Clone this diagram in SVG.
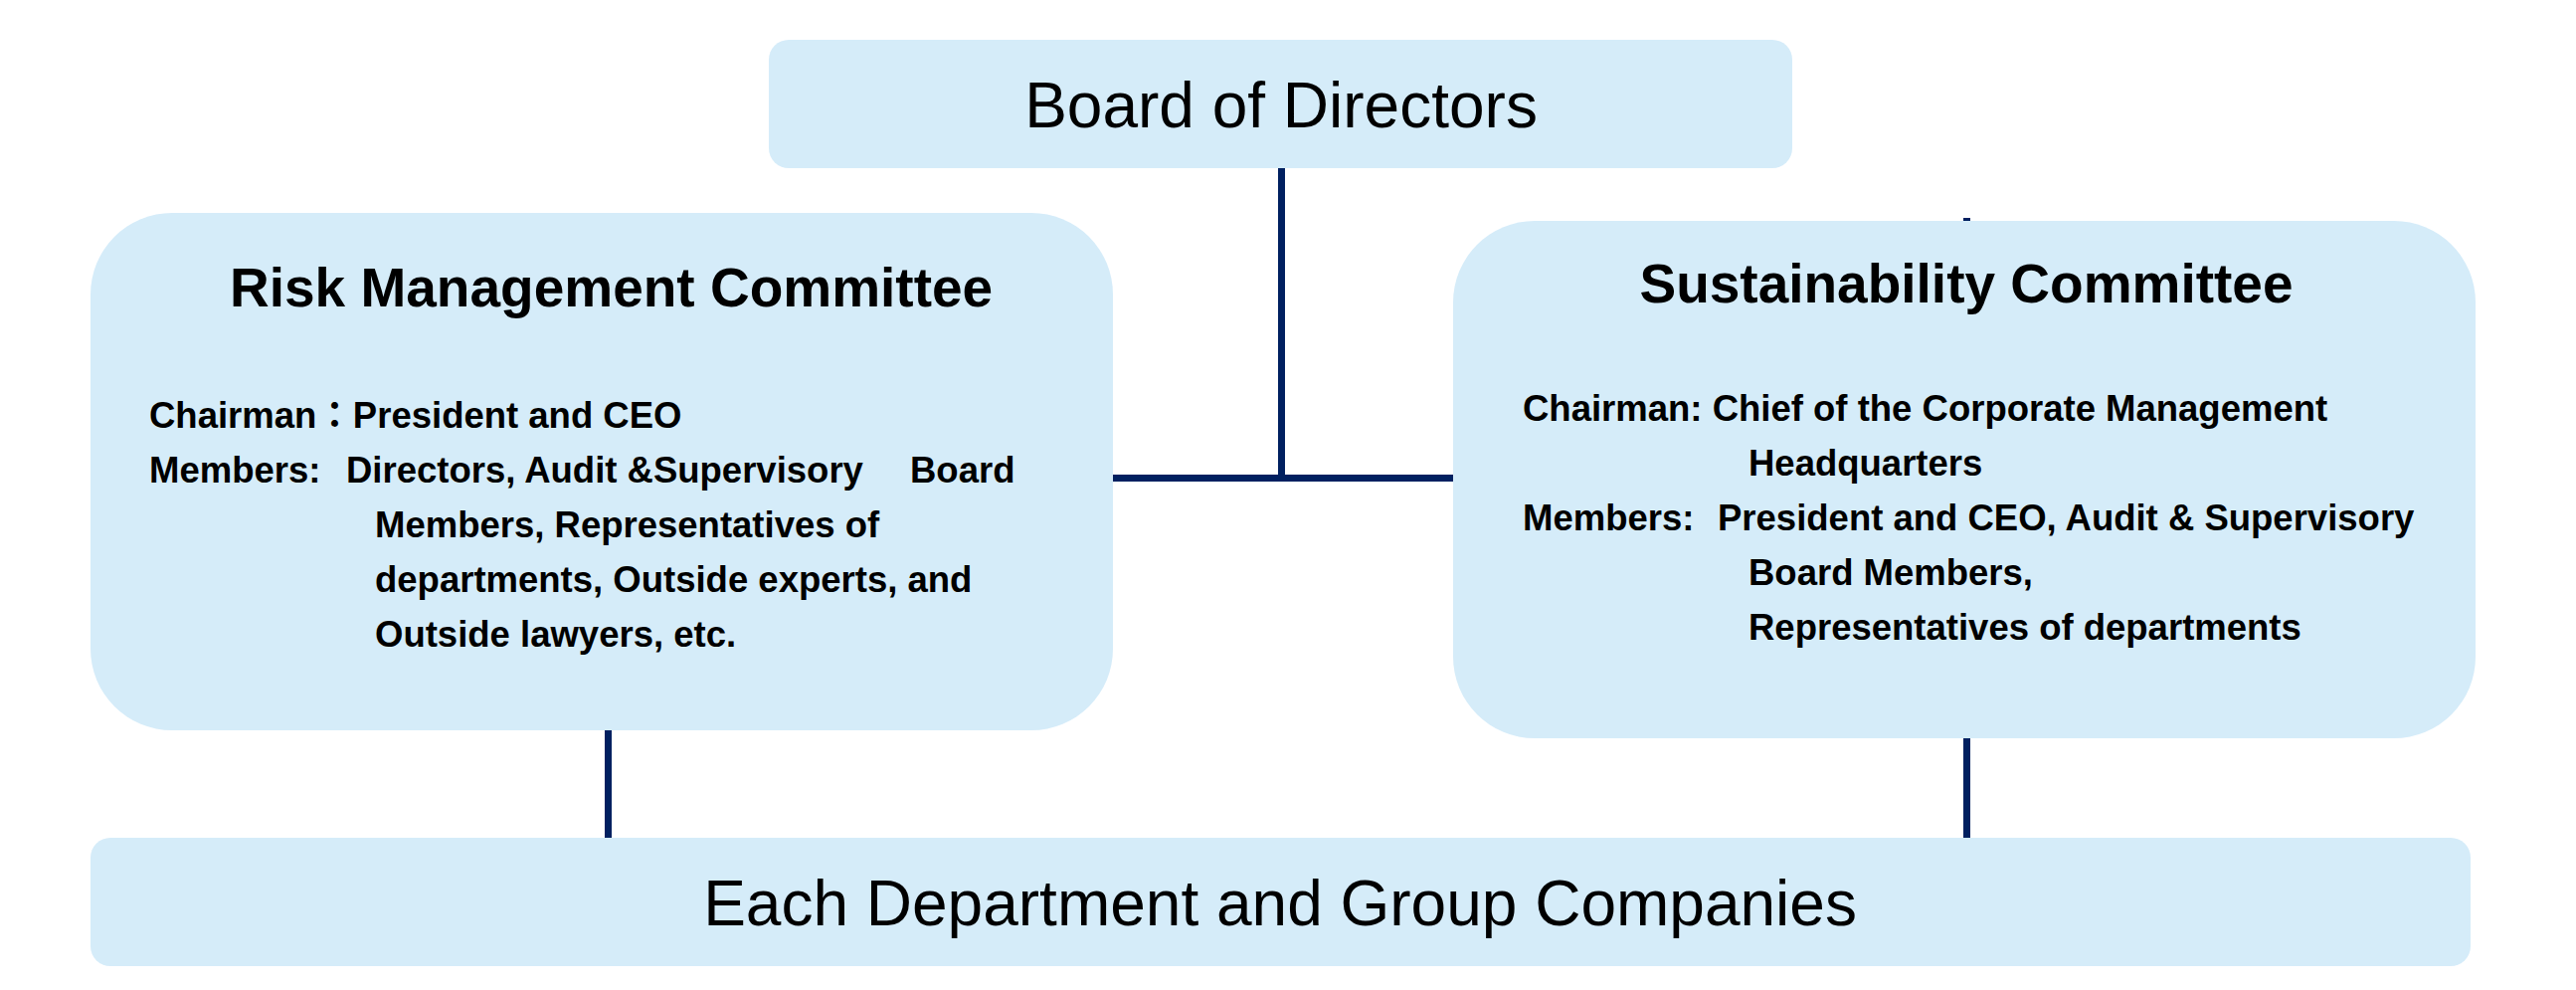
<svg xmlns="http://www.w3.org/2000/svg" width="2590" height="995" viewBox="0 0 2590 995">
<style>
.box{fill:#D5ECF9;}
.conn{stroke:#002060;stroke-width:7;fill:none;}
.big{font-family:"Liberation Sans",Arial,sans-serif;font-size:64px;fill:#000;}
.title{font-family:"Liberation Sans",Arial,sans-serif;font-size:55px;font-weight:bold;fill:#000;}
.body{font-family:"Liberation Sans",Arial,"Noto Sans CJK JP",sans-serif;font-size:36.5px;font-weight:bold;fill:#000;white-space:pre;}
</style>
<rect width="2590" height="995" fill="#FFFFFF"/>
<g id="connectors">
<line class="conn" x1="1288.5" y1="169" x2="1288.5" y2="480.5"/>
<line class="conn" x1="1119" y1="480.5" x2="1461" y2="480.5"/>
<line class="conn" x1="1977.5" y1="219" x2="1977.5" y2="223"/>
<line class="conn" x1="611.5" y1="734" x2="611.5" y2="842"/>
<line class="conn" x1="1977.5" y1="742" x2="1977.5" y2="842"/>
</g>
<g id="board">
<rect class="box" x="773" y="40" width="1029" height="129" rx="20" ry="20"/>
<text class="big" x="1288" y="128" text-anchor="middle">Board of Directors</text>
</g>
<g id="risk">
<rect class="box" x="91" y="214" width="1028" height="520" rx="82" ry="82"/>
<text class="title" x="231" y="308">Risk Management Committee</text>
<text class="body" x="150" y="430">Chairman：President and CEO</text>
<text class="body" y="485"><tspan x="150">Members:</tspan><tspan x="348">Directors, Audit &amp;Supervisory</tspan><tspan x="915">Board</tspan></text>
<text class="body" x="377" y="540">Members, Representatives of</text>
<text class="body" x="377" y="595">departments, Outside experts, and</text>
<text class="body" x="377" y="650">Outside lawyers, etc.</text>
</g>
<g id="sustainability">
<rect class="box" x="1461" y="222" width="1028" height="520" rx="82" ry="82"/>
<text class="title" x="1977" y="304" text-anchor="middle">Sustainability Committee</text>
<text class="body" x="1531" y="423">Chairman: Chief of the Corporate Management</text>
<text class="body" x="1758" y="478">Headquarters</text>
<text class="body" y="533"><tspan x="1531">Members:</tspan><tspan x="1727">President and CEO, Audit &amp; Supervisory</tspan></text>
<text class="body" x="1758" y="588">Board Members,</text>
<text class="body" x="1758" y="643">Representatives of departments</text>
</g>
<g id="departments">
<rect class="box" x="91" y="842" width="2393" height="129" rx="20" ry="20"/>
<text class="big" x="1287" y="930" text-anchor="middle">Each Department and Group Companies</text>
</g>
</svg>
